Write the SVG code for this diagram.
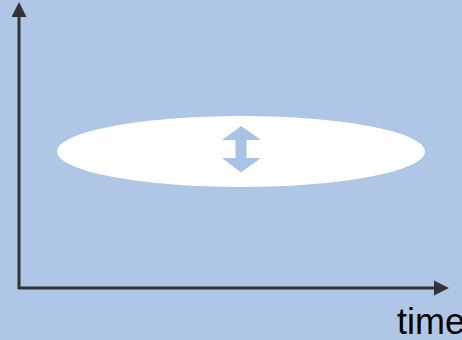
<svg xmlns="http://www.w3.org/2000/svg" width="462" height="340" viewBox="0 0 462 340">
<style>
.axis{stroke:#333333;stroke-width:3;fill:none}
.head{fill:#333333}
.lbl{font-family:"Liberation Sans",Arial,sans-serif;font-size:36px;fill:#000}
</style>
<rect width="462" height="340" fill="#afc6e7"/>
<g id="connectors">
<line class="axis" x1="19" y1="289" x2="19" y2="16"/>
<polygon class="head" points="19,2 11.5,17 26.5,17"/>
<line class="axis" x1="18" y1="288" x2="435" y2="288"/>
<polygon class="head" points="449,288 434,280.5 434,295.5"/>
</g>
<g id="ellipse">
<ellipse cx="241" cy="151.5" rx="184" ry="35.5" fill="#ffffff"/>
<polygon fill="#a9c3e6" points="241,126 261,140 246.5,140 246.5,158 261,158 241,172.5 222,158 235.5,158 235.5,140 222,140"/>
</g>
<g id="label">
<text class="lbl" x="397" y="334">time</text>
</g>
</svg>
